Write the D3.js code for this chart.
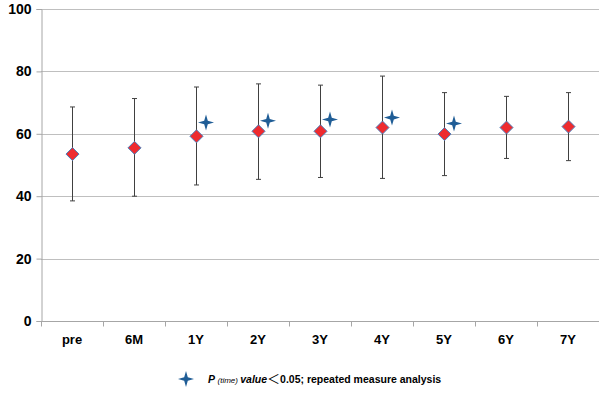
<!DOCTYPE html>
<html>
<head>
<meta charset="utf-8">
<script src="https://cdn.jsdelivr.net/npm/d3@7"></script>
<style>
  body { margin: 0; background: #fff; }
  svg { display: block; font-family: "Liberation Sans", Arial, sans-serif; }
</style>
</head>
<body>
<div id="chart"></div>
<script>
  "use strict";

  // data
  var categories = ["pre", "6M", "1Y", "2Y", "3Y", "4Y", "5Y", "6Y", "7Y"]
  var means = [53.5, 55.5, 59.2, 60.8, 60.8, 62.0, 59.9, 62.0, 62.3]
  var upper = [68.6, 71.3, 75.0, 76.0, 75.6, 78.5, 73.2, 72.0, 73.2]
  var lower = [38.5, 40.0, 43.6, 45.4, 46.0, 45.7, 46.6, 52.1, 51.4]
  var starCats = ["1Y", "2Y", "3Y", "4Y", "5Y"]
  var starValues = [63.6, 64.2, 64.6, 65.2, 63.3]
  var yTicks = [0, 20, 40, 60, 80, 100]

  var width = 600
    , height = 400
    , margin = {top: 9, right: 1, bottom: 79, left: 41}

  var svg = d3.select("#chart")
    .append("svg")
    .attr("width", width)
    .attr("height", height)

  var x = d3.scaleBand()
    .domain(categories)
    .range([margin.left, width - margin.right])

  var y = d3.scaleLinear()
    .domain([0, 100])
    .range([height - margin.bottom, margin.top])

  // gridlines
  svg.append("g")
    .selectAll("line")
    .data(yTicks.slice(1))
    .enter().append("line")
      .attr("x1", margin.left)
      .attr("x2", width - margin.right)
      .attr("y1", function (d) { return Math.round(y(d)) + 0.5 })
      .attr("y2", function (d) { return Math.round(y(d)) + 0.5 })
      .attr("stroke", "#bfbfbf")
      .attr("stroke-width", 1)

  // y axis
  var yAxis = svg.append("g")
    .attr("transform", "translate(" + (margin.left + 0.5) + ",0)")
    .call(d3.axisLeft(y).tickValues(yTicks).tickSize(5).tickPadding(5))
  yAxis.select(".domain").attr("stroke", "#a6a6a6")
  yAxis.selectAll(".tick line").attr("stroke", "#a6a6a6")
  yAxis.selectAll("text")
    .attr("font-size", "14px")
    .attr("font-weight", "bold")
    .attr("fill", "#000")
    .attr("font-family", "'Liberation Sans', Arial, sans-serif")

  // x axis, ticks between the categories
  var xAxisG = svg.append("g")
    .attr("transform", "translate(0," + (Math.round(y(0)) + 0.5) + ")")
  xAxisG.append("line")
    .attr("x1", margin.left)
    .attr("x2", width - margin.right)
    .attr("stroke", "#a6a6a6")
  xAxisG.selectAll("line.tick")
    .data(categories)
    .enter().append("line")
      .attr("class", "tick")
      .attr("x1", function (d) { return Math.round(x(d)) + 0.5 })
      .attr("x2", function (d) { return Math.round(x(d)) + 0.5 })
      .attr("y1", 0)
      .attr("y2", 5)
      .attr("stroke", "#a6a6a6")
  xAxisG.selectAll("text")
    .data(categories)
    .enter().append("text")
      .text(function (d) { return d })
      .attr("x", function (d) { return x(d) + x.bandwidth() / 2 })
      .attr("y", 22)
      .attr("text-anchor", "middle")
      .attr("font-size", "13px")
      .attr("font-weight", "bold")
      .attr("fill", "#000")

  var cx = function (i) { return Math.round(x(categories[i]) + x.bandwidth() / 2) + 0.5 }

  // error bars
  var bars = svg.append("g")
    .selectAll("g")
    .data(means)
    .enter().append("g")
  bars.append("line")
    .attr("x1", function (d, i) { return cx(i) })
    .attr("x2", function (d, i) { return cx(i) })
    .attr("y1", function (d, i) { return y(upper[i]) })
    .attr("y2", function (d, i) { return y(lower[i]) })
    .attr("stroke", "#404040")
  bars.append("line")
    .attr("x1", function (d, i) { return cx(i) - 2.5 })
    .attr("x2", function (d, i) { return cx(i) + 2.5 })
    .attr("y1", function (d, i) { return y(upper[i]) })
    .attr("y2", function (d, i) { return y(upper[i]) })
    .attr("stroke", "#404040")
  bars.append("line")
    .attr("x1", function (d, i) { return cx(i) - 2.5 })
    .attr("x2", function (d, i) { return cx(i) + 2.5 })
    .attr("y1", function (d, i) { return y(lower[i]) })
    .attr("y2", function (d, i) { return y(lower[i]) })
    .attr("stroke", "#404040")

  // mean markers
  svg.append("g")
    .selectAll("path")
    .data(means)
    .enter().append("path")
      .attr("d", "M0,-6.5L6.5,0L0,6.5L-6.5,0Z")
      .attr("transform", function (d, i) { return "translate(" + cx(i) + "," + y(d) + ")" })
      .attr("fill", "#ee2b2f")
      .attr("stroke", "#4a7ebb")
      .attr("stroke-width", 1)

  // four point star
  function star (r, w) {
    return "M0," + (-r) + "L" + w + "," + (-w) + "L" + r + ",0L" + w + "," + w +
      "L0," + r + "L" + (-w) + "," + w + "L" + (-r) + ",0L" + (-w) + "," + (-w) + "Z"
  }

  svg.append("g")
    .selectAll("path")
    .data(starValues)
    .enter().append("path")
      .attr("d", star(8, 1.8))
      .attr("transform", function (d, i) {
        return "translate(" + (x(starCats[i]) + x.bandwidth() / 2 + 10) + "," + y(d) + ")"
      })
      .attr("fill", "#1f5d96")

  // legend
  var legend = svg.append("g")
  legend.append("path")
    .attr("d", star(8, 1.8))
    .attr("transform", "translate(186,379)")
    .attr("fill", "#1f5d96")
  var lt = legend.append("text")
    .attr("x", 208)
    .attr("y", 383)
    .attr("font-size", "10.5px")
    .attr("font-weight", "bold")
    .attr("fill", "#000")
  lt.append("tspan").attr("font-style", "italic").text("P ")
  lt.append("tspan").attr("font-style", "italic").attr("font-weight", "normal").attr("font-size", "8px").text("(time) ")
  lt.append("tspan").attr("font-style", "italic").text("value")
  lt.append("tspan")
    .attr("font-family", "'Noto Sans CJK SC', sans-serif")
    .attr("font-size", "13px")
    .attr("font-weight", "normal")
    .text("＜")
  lt.append("tspan").text("0.05; repeated measure analysis")
</script>
</body>
</html>
